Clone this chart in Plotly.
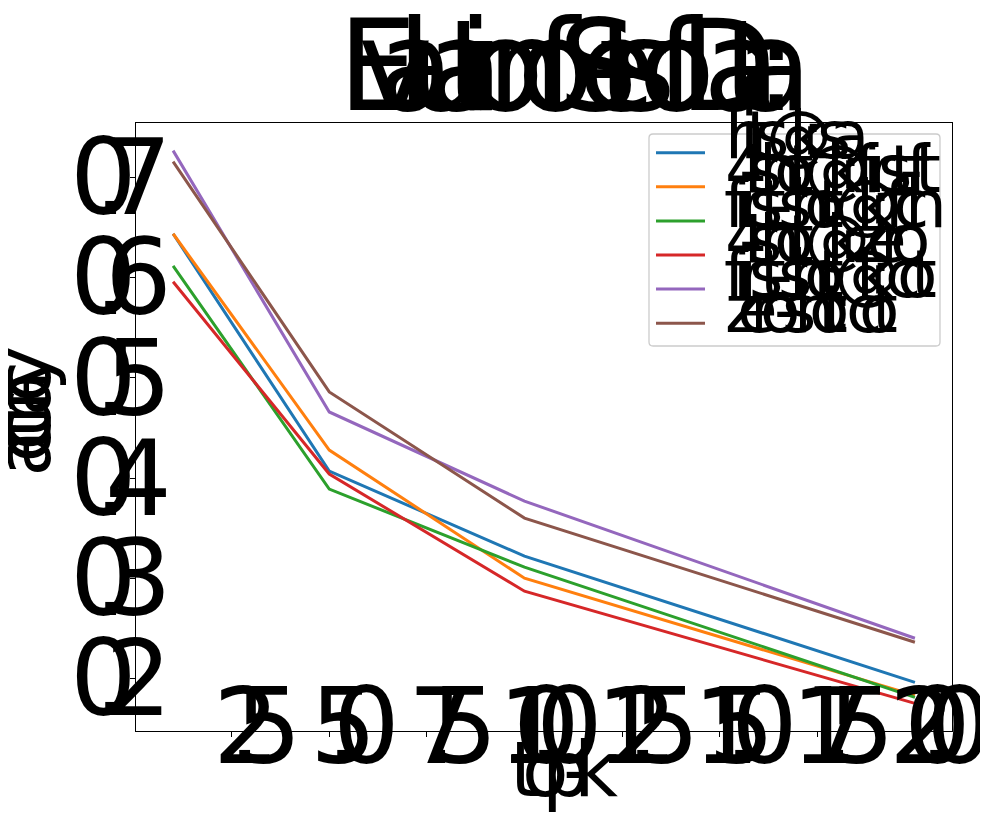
import plotly.graph_objects as go

# ---------------- data ----------------
top_k = [1, 5, 10, 20]
series_names = [
    "hits@k: sa",
    "4-shot @k: first-ft",
    "first-shot @k: fch",
    "4-shot @k: zero",
    "first-shot @k: cot",
    "zero-shot: cot",
]
acc_s1 = [0.644, 0.407, 0.322, 0.196]
acc_s2 = [0.644, 0.428, 0.300, 0.183]
acc_s3 = [0.612, 0.389, 0.311, 0.181]
acc_s4 = [0.596, 0.404, 0.287, 0.175]
acc_s5 = [0.727, 0.466, 0.377, 0.240]
acc_s6 = [0.716, 0.486, 0.360, 0.236]
series_values = [acc_s1, acc_s2, acc_s3, acc_s4, acc_s5, acc_s6]

x_tick_vals = [2.5, 5.0, 7.5, 10.0, 12.5, 15.0, 17.5, 20.0]
x_tick_text = ["2.5", "5.0", "7.5", "10.0", "12.5", "15.0", "17.5", "20.0"]
y_tick_vals = [0.2, 0.3, 0.4, 0.5, 0.6, 0.7]
y_tick_text = ["0.2", "0.3", "0.4", "0.5", "0.6", "0.7"]

title_text = "Evaluation of Sets of Data:"
x_label = "top-k"
y_label = "accuracy"

colors = ["#1f77b4", "#ff7f0e", "#2ca02c", "#d62728", "#9467bd", "#8c564b"]

# ---------------- geometry / style ----------------
FONT = "DejaVu Sans"
PAGE_OFF = 8                      # default body margin of the html page
W, H = 988 - PAGE_OFF, 813 - PAGE_OFF
ML, MR, MT, MB = 136 - PAGE_OFF, 36, 123 - PAGE_OFF, 82
PW, PH = W - ML - MR, H - MT - MB
# plot area in window pixels
PX_LEFT, PX_RIGHT = ML + PAGE_OFF, ML + PAGE_OFF + PW
PX_TOP, PX_BOT = MT + PAGE_OFF, MT + PAGE_OFF + PH

ADV = {
    " ": 0.318, "-": 0.361, ".": 0.318, ":": 0.337, "@": 1.0, "_": 0.5, ",": 0.318,
    "(": 0.390, ")": 0.390,
    "0": 0.636, "1": 0.636, "2": 0.636, "3": 0.636, "4": 0.636, "5": 0.636,
    "6": 0.636, "7": 0.636, "8": 0.636, "9": 0.636,
    "D": 0.770, "E": 0.632, "S": 0.635, "T": 0.611,
    "a": 0.613, "b": 0.635, "c": 0.550, "d": 0.635, "e": 0.615, "f": 0.352,
    "g": 0.635, "h": 0.634, "i": 0.278, "j": 0.278, "k": 0.579, "l": 0.278,
    "m": 0.974, "n": 0.634, "o": 0.612, "p": 0.635, "q": 0.635, "r": 0.411,
    "s": 0.521, "t": 0.392, "u": 0.634, "v": 0.592, "w": 0.818, "x": 0.592,
    "y": 0.592, "z": 0.525,
}
BASE_OFF = 0.346  # bbox centre above baseline, in em


def adv(c):
    return ADV.get(c, 0.6)


def run(text, start, step):
    out, pos = [], start
    for c in text:
        out.append((c, pos))
        pos += adv(c) * step
    return out


def width(text, step):
    return sum(adv(c) for c in text) * step


annotations = []


def char_ann(c, size, **kw):
    d = dict(text=c, showarrow=False, xanchor="center", yanchor="middle",
             font=dict(family=FONT, size=size, color="black"))
    d.update(kw)
    annotations.append(d)


# x tick labels
XT_SIZE, XT_STEP, XT_BASE = 105, 23.6, 763
for v, t in zip(x_tick_vals, x_tick_text):
    w = width(t, XT_STEP)
    for c, o in run(t, -w / 2, XT_STEP):
        cx = o + adv(c) * XT_SIZE / 2
        char_ann(c, XT_SIZE, xref="x", x=v, xshift=cx, yref="paper", y=0,
                 yshift=PX_BOT - (XT_BASE - BASE_OFF * XT_SIZE))

# y tick labels (right aligned)
YT_SIZE, YT_STEP, YT_END, YT_BASE_OFF = 105, 37, -7, 37
for v, t in zip(y_tick_vals, y_tick_text):
    w = width(t, YT_STEP)
    for c, o in run(t, YT_END - w, YT_STEP):
        cx = o + adv(c) * YT_SIZE / 2
        char_ann(c, YT_SIZE, xref="paper", x=0, xshift=cx, yref="y", y=v,
                 yshift=-(YT_BASE_OFF - BASE_OFF * YT_SIZE))

# title
TI_SIZE, TI_STEP, TI_START, TI_BASE = 126, 32, 338, 110
for c, o in run(title_text, TI_START, TI_STEP):
    if c == " ":
        continue
    cx = o + adv(c) * TI_SIZE / 2
    char_ann(c, TI_SIZE, xref="paper", x=0, xshift=cx - PX_LEFT, yref="paper", y=1,
             yshift=PX_TOP - (TI_BASE - BASE_OFF * TI_SIZE))

# x label
XL_SIZE, XL_STEP, XL_START, XL_BASE = 76, 32, 510, 796
for c, o in run(x_label, XL_START, XL_STEP):
    cx = o + adv(c) * XL_SIZE / 2
    char_ann(c, XL_SIZE, xref="paper", x=0, xshift=cx - PX_LEFT, yref="paper", y=0,
             yshift=PX_BOT - (XL_BASE - BASE_OFF * XL_SIZE))

# y label (rotated, reading upward)
YL_SIZE, YL_STEP, YL_BASE_X = 76, 21.7, 50
yc = (PX_TOP + PX_BOT) / 2
yw = width(y_label, YL_STEP)
pos = yc + yw / 2
for c in y_label:
    cy = pos - adv(c) * YL_SIZE / 2
    char_ann(c, YL_SIZE, textangle=-90, xref="paper", x=0,
             xshift=(YL_BASE_X - BASE_OFF * YL_SIZE) - PX_LEFT,
             yref="paper", y=0.5, yshift=yc - cy)
    pos -= adv(c) * YL_STEP

# legend (drawn by hand to match)
LG_BOX = (649, 134, 940, 346)
LG_LINE_X = (656, 705)
LG_LINE_Y0, LG_LINE_DY = 152.7, 34.1
LG_TXT_X, LG_TXT_BASE0, LG_TXT_DY = 725, 158, 34.8
LG_SIZE, LG_STEP = 66, 22.7


def px2paper_x(px):
    return (px - PX_LEFT) / PW


def px2paper_y(py):
    return (PX_BOT - py) / PH


shapes = []
x0, y0, x1, y1 = LG_BOX
r = 4
px0, px1 = px2paper_x(x0), px2paper_x(x1)
py0, py1 = px2paper_y(y0), px2paper_y(y1)
rx, ry = r / PW, r / PH
path = (f"M {px0+rx},{py0} L {px1-rx},{py0} Q {px1},{py0} {px1},{py0-ry} "
        f"L {px1},{py1+ry} Q {px1},{py1} {px1-rx},{py1} L {px0+rx},{py1} "
        f"Q {px0},{py1} {px0},{py1+ry} L {px0},{py0-ry} Q {px0},{py0} {px0+rx},{py0} Z")
shapes.append(dict(type="path", path=path, xref="paper", yref="paper",
                   fillcolor="rgba(255,255,255,0.8)", line=dict(color="#cccccc", width=1.3),
                   layer="above"))
for i, (name, col) in enumerate(zip(series_names, colors)):
    ly = LG_LINE_Y0 + i * LG_LINE_DY
    shapes.append(dict(type="line", xref="paper", yref="paper",
                       x0=px2paper_x(LG_LINE_X[0]), x1=px2paper_x(LG_LINE_X[1]),
                       y0=px2paper_y(ly), y1=px2paper_y(ly),
                       line=dict(color=col, width=3), layer="above"))
    base = LG_TXT_BASE0 + i * LG_TXT_DY
    for c, o in run(name, LG_TXT_X, LG_STEP):
        if c == " ":
            continue
        cx = o + adv(c) * LG_SIZE / 2
        char_ann(c, LG_SIZE, xref="paper", x=0, xshift=cx - PX_LEFT, yref="paper", y=1,
                 yshift=PX_TOP - (base - BASE_OFF * LG_SIZE))

# ---------------- figure ----------------
fig = go.Figure()
for name, vals, col in zip(series_names, series_values, colors):
    fig.add_trace(go.Scatter(x=top_k, y=vals, mode="lines", name=name,
                             line=dict(color=col, width=3), showlegend=False))

xmin, xmax = min(top_k), max(top_k)
xpad = (xmax - xmin) * 0.05
all_y = [v for s in series_values for v in s]
ymin, ymax = min(all_y), max(all_y)
ypad = (ymax - ymin) * 0.05

axis_common = dict(showline=True, mirror=True, linecolor="black", linewidth=1.2,
                   ticks="outside", ticklen=5, tickwidth=1, tickcolor="black",
                   showticklabels=False, showgrid=False, zeroline=False)
fig.update_xaxes(range=[xmin - xpad, xmax + xpad], tickvals=x_tick_vals, **axis_common)
fig.update_yaxes(range=[ymin - ypad, ymax + ypad], tickvals=y_tick_vals, **axis_common)

fig.update_layout(
    width=W, height=H, autosize=False,
    margin=dict(l=ML, r=MR, t=MT, b=MB, pad=0),
    paper_bgcolor="white", plot_bgcolor="white",
    font=dict(family=FONT, color="black"),
    showlegend=False,
    annotations=annotations, shapes=shapes,
)
fig.write_html("out.html")
